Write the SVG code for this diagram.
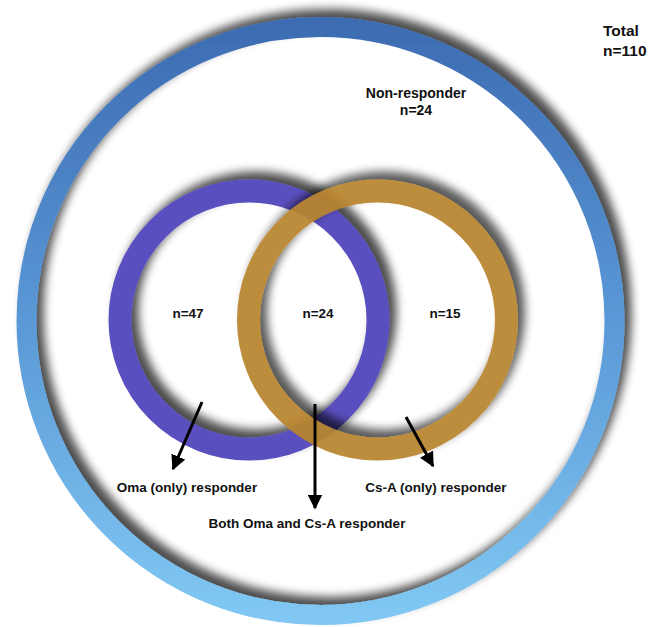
<svg xmlns="http://www.w3.org/2000/svg" width="662" height="627" viewBox="0 0 662 627">
  <defs>
    <linearGradient id="blueGrad" x1="0" y1="0" x2="0" y2="1">
      <stop offset="0" stop-color="#3d6cb2"/>
      <stop offset="0.5" stop-color="#5a98d6"/>
      <stop offset="1" stop-color="#80c8f3"/>
    </linearGradient>
    <filter id="shadow" x="-20%" y="-20%" width="140%" height="140%">
      <feGaussianBlur in="SourceAlpha" stdDeviation="5"/>
      <feOffset dx="7" dy="-8" result="b"/>
      <feComponentTransfer in="b" result="s">
        <feFuncA type="linear" slope="0.7"/>
      </feComponentTransfer>
      <feMerge>
        <feMergeNode in="s"/>
        <feMergeNode in="SourceGraphic"/>
      </feMerge>
    </filter>
    <marker id="arrow" viewBox="0 0 10 10" refX="9" refY="5" markerWidth="5" markerHeight="5" orient="auto" markerUnits="strokeWidth">
      <path d="M0,0 L10,5 L0,10 Z" fill="#000"/>
    </marker>
    <style>
      .lbl { font-family: "Liberation Sans", Arial, sans-serif; font-weight: bold; fill: #111; }
      .ring { fill: none; }
      .conn { stroke: #000; stroke-width: 3; fill: none; marker-end: url(#arrow); }
    </style>
  </defs>
  <rect width="662" height="627" fill="#ffffff"/>

  <g id="total">
    <circle class="ring" cx="320.5" cy="321" r="294" stroke="url(#blueGrad)" stroke-width="20" filter="url(#shadow)"/>
    <text class="lbl" x="603" y="36" font-size="15.5">Total</text>
    <text class="lbl" x="603" y="56" font-size="15.5">n=110</text>
  </g>

  <g id="non-responder">
    <text class="lbl" x="416" y="98" font-size="14" text-anchor="middle">Non-responder</text>
    <text class="lbl" x="416" y="115" font-size="14" text-anchor="middle">n=24</text>
  </g>

  <g id="oma">
    <circle class="ring" cx="249" cy="320" r="129" stroke="#5a50be" stroke-width="23" filter="url(#shadow)"/>
  </g>

  <g id="csa">
    <circle class="ring" cx="377.5" cy="320" r="129" stroke="#b8852f" stroke-width="23" opacity="0.93" filter="url(#shadow)"/>
  </g>

  <g id="counts">
    <text class="lbl" x="188" y="318" font-size="13.5" text-anchor="middle">n=47</text>
    <text class="lbl" x="318" y="318" font-size="13.5" text-anchor="middle">n=24</text>
    <text class="lbl" x="445" y="318" font-size="13.5" text-anchor="middle">n=15</text>
  </g>

  <g id="connectors">
    <line class="conn" x1="202" y1="402" x2="173" y2="469"/>
    <line class="conn" x1="315" y1="404" x2="315" y2="508"/>
    <line class="conn" x1="406" y1="417" x2="433" y2="466"/>
  </g>

  <g id="oma-only-label">
    <text class="lbl" x="187" y="492" font-size="13.5" text-anchor="middle">Oma (only) responder</text>
  </g>
  <g id="both-label">
    <text class="lbl" x="307" y="528" font-size="13.5" text-anchor="middle">Both Oma and Cs-A responder</text>
  </g>
  <g id="csa-only-label">
    <text class="lbl" x="436" y="492" font-size="13.5" text-anchor="middle">Cs-A (only) responder</text>
  </g>
</svg>
